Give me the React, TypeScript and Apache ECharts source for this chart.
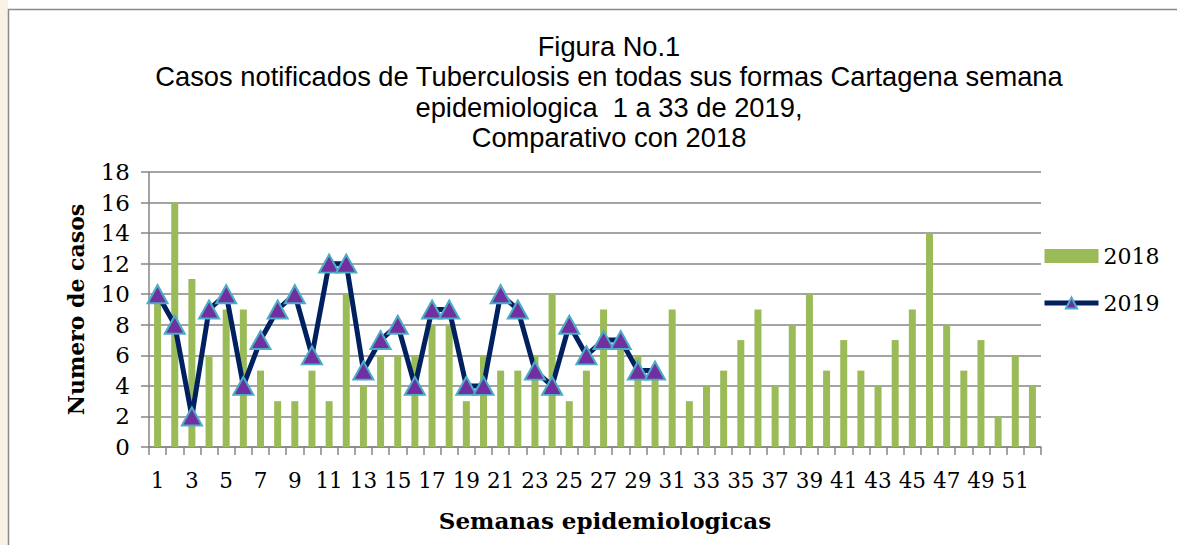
import React, { useEffect, useRef } from "react";
import * as echarts from "echarts";

const weeks: string[] = Array.from({ length: 52 }, (_, i) => String(i + 1));

const cases2018: number[] = [
  10, 16, 11, 6, 9, 9, 5, 3, 3, 5, 3, 10, 4, 6, 6, 6, 8, 8, 3, 6, 5, 5, 6, 10, 3, 5,
  9, 7, 6, 5, 9, 3, 4, 5, 7, 9, 4, 8, 10, 5, 7, 5, 4, 7, 9, 14, 8, 5, 7, 2, 6, 4,
];

const cases2019: number[] = [
  10, 8, 2, 9, 10, 4, 7, 9, 10, 6, 12, 12, 5, 7, 8, 4, 9, 9, 4, 4, 10, 9, 5, 4, 8, 6,
  7, 7, 5, 5,
];

const yTicks: number[] = [0, 2, 4, 6, 8, 10, 12, 14, 16, 18];

const titleLines: string[] = [
  "Figura No.1",
  "Casos notificados de Tuberculosis en todas sus formas Cartagena semana",
  "epidemiologica  1 a 33 de 2019,",
  "Comparativo con 2018",
];

const SERIF = "'DejaVu Serif', 'Liberation Serif', serif";
const SANS = "'Liberation Sans', Arial, sans-serif";

export default function App() {
  const ref = useRef<HTMLDivElement>(null);

  useEffect(() => {
    if (!ref.current) return;
    const chart = echarts.init(ref.current, undefined, { renderer: "svg" });
    chart.setOption({
      animation: false,
      backgroundColor: "#ffffff",
      title: {
        text: titleLines.join("\n"),
        left: 604,
        textAlign: "center",
        top: 26,
        textStyle: {
          fontFamily: SANS,
          fontSize: 27.3,
          fontWeight: "normal",
          color: "#000",
          lineHeight: 30.4,
        },
      },
      graphic: [
        {
          type: "rect",
          shape: { x: 0, y: 0, width: 8, height: 545 },
          style: { fill: "#fbf1e6" },
          silent: true,
        },
        {
          type: "rect",
          shape: { x: 8.5, y: 9.5, width: 1200, height: 560 },
          style: { fill: "none", stroke: "#8a8a8a", lineWidth: 1.5 },
          silent: true,
        },
      ],
      legend: {
        orient: "vertical",
        left: 1042,
        top: 245,
        padding: 0,
        itemGap: 25,
        itemWidth: 54,
        itemHeight: 14,
        textStyle: { fontFamily: SERIF, fontSize: 22, color: "#000", lineHeight: 14 },
        data: [
          { name: "2018", icon: "rect" },
          { name: "2019", lineStyle: { width: 5, color: "#002060" } },
        ],
      },
      grid: { left: 149, right: 136, top: 172, bottom: 98, containLabel: false },
      xAxis: {
        type: "category",
        data: weeks,
        name: "Semanas epidemiologicas",
        nameLocation: "middle",
        nameGap: 62,
        nameTextStyle: {
          fontFamily: SERIF,
          fontSize: 23,
          fontWeight: "bold",
          color: "#000",
          padding: [0, 0, 0, 20],
        },
        axisLine: { show: true, lineStyle: { color: "#868686", width: 1.5 } },
        axisTick: {
          show: true,
          interval: 0,
          alignWithLabel: false,
          length: 8,
          lineStyle: { color: "#868686", width: 1.5 },
        },
        axisLabel: {
          interval: 1,
          margin: 22,
          fontFamily: SERIF,
          fontSize: 21.5,
          color: "#000",
        },
      },
      yAxis: {
        type: "value",
        min: 0,
        max: 18,
        interval: 2,
        name: "Numero de casos",
        nameLocation: "middle",
        nameGap: 62,
        nameTextStyle: {
          fontFamily: SERIF,
          fontSize: 22,
          fontWeight: "bold",
          color: "#000",
        },
        axisLine: { show: true, lineStyle: { color: "#868686", width: 1.5 } },
        axisTick: { show: true, length: 8, lineStyle: { color: "#868686", width: 1.5 } },
        axisLabel: {
          margin: 19,
          fontFamily: SERIF,
          fontSize: 23,
          color: "#000",
          formatter: (v: number) => (yTicks.includes(v) ? String(v) : ""),
        },
        splitLine: { show: true, lineStyle: { color: "#868686", width: 1.5 } },
      },
      series: [
        {
          name: "2018",
          type: "bar",
          data: cases2018,
          barWidth: 7,
          itemStyle: { color: "#9BBB59" },
          z: 2,
        },
        {
          name: "2019",
          type: "line",
          data: cases2019,
          lineStyle: { color: "#002060", width: 5 },
          itemStyle: { color: "#7030A0", borderColor: "#4BACC6", borderWidth: 2 },
          symbol: "triangle",
          symbolSize: [20, 18],
          showSymbol: true,
          showAllSymbol: true,
          z: 3,
        },
      ],
    });
    return () => chart.dispose();
  }, []);

  return (
    <div
      ref={ref}
      style={{ position: "fixed", left: 0, top: 0, width: 1177, height: 545 }}
    />
  );
}
